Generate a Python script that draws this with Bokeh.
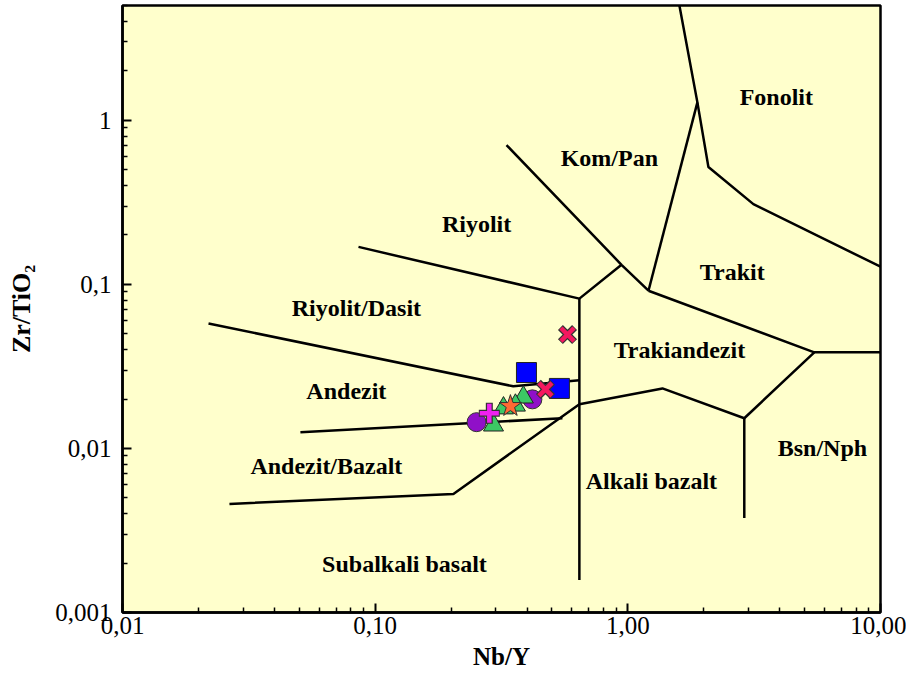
from bokeh.plotting import figure
from bokeh.models import FixedTicker, Range1d
from bokeh.core.properties import value
from bokeh.embed import file_html
from bokeh.resources import INLINE

# ---- Boundary lines (Nb/Y, Zr/TiO2) ----
line_rd_and_x = [0.0219, 0.352, 0.643]
line_rd_and_y = [0.0577, 0.0239, 0.0260]
line_ry_rd_x = [0.0859, 0.643, 0.944]
line_ry_rd_y = [0.169, 0.0818, 0.1315]
line_vert1_x = [0.643, 0.643]
line_vert1_y = [0.0818, 0.00158]
line_kom_x = [0.331, 0.944, 1.207]
line_kom_y = [0.705, 0.1315, 0.0914]
line_trk_kom_x = [1.207, 1.885]
line_trk_kom_y = [0.0914, 1.284]
line_fon_x = [1.60, 1.885, 2.084, 3.14, 10.0]
line_fon_y = [5.0, 1.284, 0.518, 0.308, 0.128]
line_trk_ta_x = [1.207, 5.47, 10.0]
line_trk_ta_y = [0.0914, 0.0385, 0.0385]
line_ta_ab_x = [0.643, 1.371, 2.89, 5.47]
line_ta_ab_y = [0.01858, 0.0232, 0.01527, 0.0385]
line_vert2_x = [2.89, 2.89]
line_vert2_y = [0.01527, 0.00377]
line_ab_sub_x = [0.0265, 0.204, 0.643]
line_ab_sub_y = [0.00459, 0.00528, 0.01858]
line_and_ab_x = [0.0506, 0.551]
line_and_ab_y = [0.01256, 0.01527]

# ---- Field labels ----
field_names = ["Fonolit", "Kom/Pan", "Riyolit", "Trakit", "Riyolit/Dasit", "Trakiandezit",
               "Andezit", "Andezit/Bazalt", "Bsn/Nph", "Alkali bazalt", "Subalkali basalt"]
field_x = [3.87, 0.845, 0.252, 2.59, 0.0843, 1.60, 0.0769, 0.0641, 5.89, 1.24, 0.1306]
field_y = [1.377, 0.587, 0.233, 0.119, 0.0721, 0.0395, 0.0223, 0.00781, 0.01004, 0.00632, 0.00198]

# ---- Samples ----
circle_x = [0.419, 0.252]
circle_y = [0.0199, 0.01445]
square_x = [0.397, 0.536]
square_y = [0.0290, 0.0232]
triangle_x = [0.386, 0.359, 0.322, 0.294]
triangle_y = [0.0205, 0.0183, 0.0176, 0.01384]
star_x = [0.343]
star_y = [0.0181]
plus_x = [0.283]
plus_y = [0.0164]
xmark_x = [0.577, 0.472]
xmark_y = [0.0494, 0.0229]

# ---- Axis ticks ----
x_major = [0.01, 0.1, 1.0, 10.0]
x_labels = ["0,01", "0,10", "1,00", "10,00"]
y_major = [0.001, 0.01, 0.1, 1.0]
y_labels = ["0,001", "0,01", "0,1", "1"]

SERIF = "Liberation Serif"

p = figure(width=906, height=672, x_axis_type="log", y_axis_type="log",
           x_range=Range1d(0.01, 10.0), y_range=Range1d(0.001, 5.0),
           output_backend="svg", toolbar_location=None,
           min_border_left=122, min_border_right=26, min_border_top=5, min_border_bottom=60)
p.background_fill_color = "#FFFFCC"
p.border_fill_color = "white"
p.outline_line_color = "black"
p.outline_line_width = 2.5
p.grid.visible = False

xs = [line_rd_and_x, line_ry_rd_x, line_vert1_x, line_kom_x, line_trk_kom_x, line_fon_x,
      line_trk_ta_x, line_ta_ab_x, line_vert2_x, line_ab_sub_x, line_and_ab_x]
ys = [line_rd_and_y, line_ry_rd_y, line_vert1_y, line_kom_y, line_trk_kom_y, line_fon_y,
      line_trk_ta_y, line_ta_ab_y, line_vert2_y, line_ab_sub_y, line_and_ab_y]
p.multi_line(xs=xs, ys=ys, line_color="black", line_width=2.5)

p.text(x=field_x, y=field_y, text=field_names, text_font=value(SERIF),
       text_font_style="bold", text_font_size="24px", text_color="black",
       text_align="center", text_baseline="middle")

p.scatter(circle_x, circle_y, marker="circle", size=19, fill_color="#9010C8", line_color="#333333", line_width=1)
p.scatter(square_x, square_y, marker="square", size=20, fill_color="#0000FF", line_color="#222222", line_width=1)
p.scatter(triangle_x, triangle_y, marker="triangle", size=20, fill_color="#3CC864", line_color="#222222", line_width=1)
p.scatter(star_x, star_y, marker="star", size=23, fill_color="#FF6A33", line_color="#333333", line_width=1)
p.scatter(plus_x, plus_y, marker="cross", size=21, line_color="#333333", line_width=7)
p.scatter(plus_x, plus_y, marker="cross", size=19, line_color="#F020F0", line_width=4.5)
p.scatter(xmark_x, xmark_y, marker="x", size=20, line_color="#333333", line_width=7)
p.scatter(xmark_x, xmark_y, marker="x", size=18.5, line_color="#F5185F", line_width=4.5)

for ax in (p.xaxis[0], p.yaxis[0]):
    ax.axis_line_width = 2.5
    ax.axis_line_color = "black"
    ax.major_tick_in = 9
    ax.major_tick_out = 0
    ax.minor_tick_in = 5
    ax.minor_tick_out = 0
    ax.major_tick_line_width = 2
    ax.minor_tick_line_width = 1.5
    ax.major_label_text_font = SERIF
    ax.major_label_text_font_size = "25px"
    ax.major_label_text_color = "black"
    ax.axis_label_text_font = SERIF
    ax.axis_label_text_font_style = "bold"
    ax.axis_label_text_color = "black"

x_minor = [k * 10.0 ** d for d in (-2, -1, 0) for k in range(2, 10)]
y_minor = [k * 10.0 ** d for d in (-3, -2, -1) for k in range(2, 10)] + [2.0, 3.0, 4.0, 5.0]
p.xaxis.ticker = FixedTicker(ticks=x_major, minor_ticks=x_minor)
p.yaxis.ticker = FixedTicker(ticks=y_major, minor_ticks=y_minor)
p.xaxis.major_label_overrides = {v: s for v, s in zip(x_major, x_labels)}
p.yaxis.major_label_overrides = {v: s for v, s in zip(y_major, y_labels)}
p.xaxis.major_label_standoff = 4
p.yaxis.major_label_standoff = 11
p.xaxis.axis_label = "Nb/Y"
p.yaxis.axis_label = "Zr/TiO\u2082"
p.xaxis.axis_label_text_font_size = "25px"
p.yaxis.axis_label_text_font_size = "26px"
p.xaxis.axis_label_standoff = 6
p.yaxis.axis_label_standoff = 16

open("out.html", "w").write(file_html(p, INLINE))
